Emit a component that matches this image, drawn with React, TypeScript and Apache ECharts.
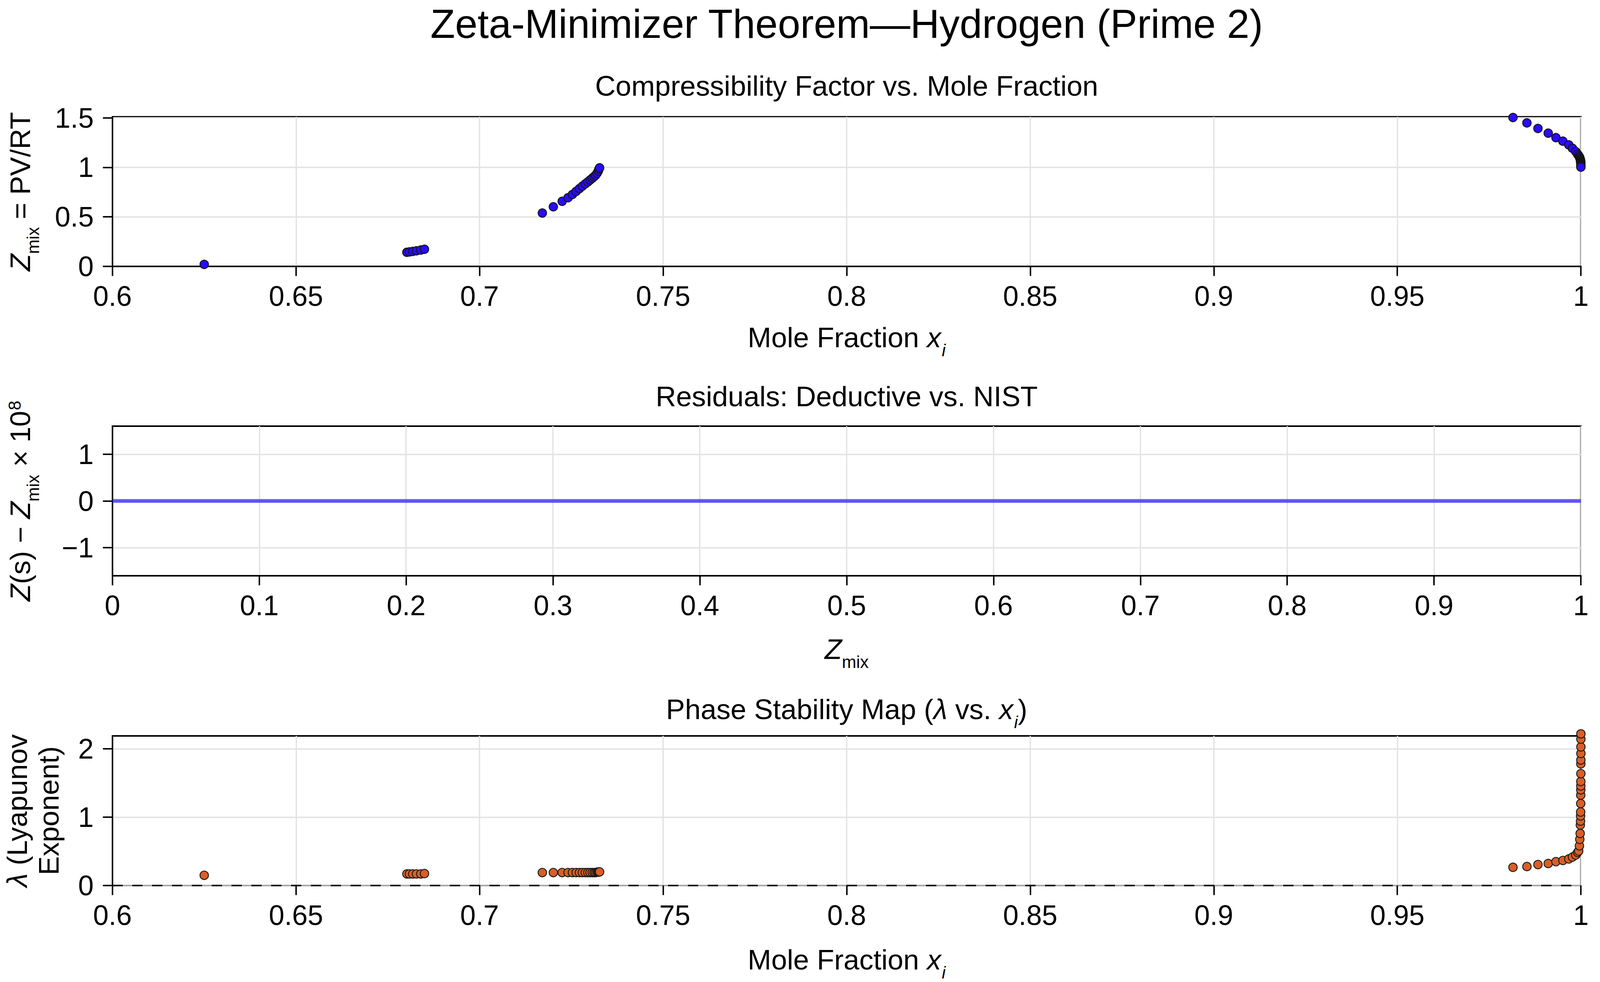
import React, { useEffect, useRef } from 'react';
import * as echarts from 'echarts';

// mole fraction x_i of each state point (shared by the Z and lambda panels)
const moleFraction = [
  0.625,
  0.6802, 0.6809, 0.6818, 0.6828, 0.684, 0.685,
  0.7171, 0.7201, 0.7225, 0.7241, 0.7253, 0.7263, 0.7272, 0.728, 0.7288, 0.7295,
  0.7301, 0.7307, 0.7312, 0.7316, 0.732, 0.7323, 0.7325, 0.7327,
  0.9815, 0.9853, 0.9883, 0.9911, 0.9932, 0.9951, 0.9967, 0.9977, 0.9986, 0.9991,
  0.9994, 0.9996, 0.9997, 0.9998, 0.99985, 0.9999, 0.99992, 0.99994, 0.99995, 0.99996,
  0.99997, 0.99998, 0.99998, 0.99999, 0.99999, 0.99999, 1.0, 1.0, 1.0, 1.0,
];

// compressibility factor Z_mix = PV/RT
const zMix = [
  0.02,
  0.142, 0.146, 0.151, 0.157, 0.165, 0.173,
  0.539, 0.602, 0.657, 0.693, 0.726, 0.757, 0.785, 0.81, 0.833, 0.853,
  0.872, 0.89, 0.906, 0.92, 0.94, 0.96, 0.98, 0.995,
  1.503, 1.448, 1.392, 1.345, 1.3, 1.264, 1.227, 1.192, 1.159, 1.133,
  1.118, 1.106, 1.095, 1.085, 1.078, 1.071, 1.065, 1.059, 1.054, 1.049,
  1.044, 1.039, 1.035, 1.031, 1.027, 1.021, 1.016, 1.011, 1.006, 1.002,
];

// Lyapunov exponent lambda
const lyapunov = [
  0.15,
  0.17, 0.17, 0.17, 0.17, 0.17, 0.175,
  0.19, 0.19, 0.19, 0.19, 0.19, 0.19, 0.19, 0.19, 0.19, 0.19,
  0.19, 0.19, 0.19, 0.19, 0.195, 0.195, 0.2, 0.2,
  0.266, 0.278, 0.307, 0.322, 0.35, 0.367, 0.389, 0.417, 0.447, 0.484,
  0.505, 0.581, 0.676, 0.762, 0.886, 0.943, 1.019, 1.076, 1.2, 1.323,
  1.4, 1.457, 1.523, 1.638, 1.781, 1.838, 1.933, 2.029, 2.143, 2.22,
];

// residuals Z(s) - Z_mix (x 1e8)
const residualZ = [0, 0.2, 0.4, 0.6, 0.8, 1.0];
const residualValue = [0, 0, 0, 0, 0, 0];

// y tick labels
const zTicks = [0, 0.5, 1, 1.5];
const residualTicks = [-1, 0, 1];
const lambdaTicks = [0, 1, 2];

const FONT = "'Liberation Sans', Arial, Helvetica, sans-serif";
const BLUE = '#2a0bff';
const ORANGE = '#d95f26';

// layout measured on a 4354 x 2514 canvas, scaled to the real size
const BASE_W = 4354;
const BASE_H = 2514;
const PLOT_LEFT = 306;
const PLOT_RIGHT = 4302;
const PANEL_TOPS = [299, 1091, 1884];
const PANEL_H = 383;

const minus = (v: number) => String(v).replace('-', '\u2212');

const buildOption = (sx: number, sy: number) => {
  const s = Math.min(sx, sy);
  const F = 77 * s;
  const SUB = 47 * s;
  const SUB_PAD = 50 * s;
  const midX = ((PLOT_LEFT + PLOT_RIGHT) / 2) * sx;
  const top = (i: number) => PANEL_TOPS[i] * sy;
  const bottom = (i: number) => (PANEL_TOPS[i] + PANEL_H) * sy;
  const mid = (i: number) => (PANEL_TOPS[i] + PANEL_H / 2) * sy;

  const rich = {
    n: { fontSize: F, lineHeight: F, fontFamily: FONT, verticalAlign: 'top', fill: '#000' },
    it: { fontSize: F, lineHeight: F, fontFamily: FONT, fontStyle: 'italic', verticalAlign: 'top', fill: '#000' },
    sub: { fontSize: SUB, lineHeight: SUB, fontFamily: FONT, verticalAlign: 'top', padding: [SUB_PAD, 0, 0, 0], fill: '#000' },
    subIt: { fontSize: SUB, lineHeight: SUB, fontFamily: FONT, fontStyle: 'italic', verticalAlign: 'top', padding: [SUB_PAD, 0, 0, 2 * s], fill: '#000' },
    sup: { fontSize: SUB, lineHeight: SUB, fontFamily: FONT, verticalAlign: 'top', padding: [0, 0, 0, 2 * s], fill: '#000' },
    n2: { fontSize: F, lineHeight: 86 * s, fontFamily: FONT, verticalAlign: 'top', fill: '#000' },
    it2: { fontSize: F, lineHeight: 86 * s, fontFamily: FONT, fontStyle: 'italic', verticalAlign: 'top', fill: '#000' },
  };

  const label = (x: number, y: number, text: string, rotation = 0) => ({
    type: 'text',
    x,
    y,
    rotation,
    silent: true,
    style: {
      text,
      fontSize: F,
      fontFamily: FONT,
      fill: '#000',
      align: 'center',
      verticalAlign: 'middle',
      rich,
    },
  });

  const xAxisFor = (gridIndex: number, min: number, max: number, interval: number, lineColor = '#000') => ({
    type: 'value',
    gridIndex,
    min,
    max,
    interval,
    axisLine: { show: true, onZero: false, lineStyle: { color: lineColor, width: 4 * s } },
    axisTick: { show: true, length: 26 * s, lineStyle: { color: '#000', width: 4 * s } },
    axisLabel: { color: '#000', fontSize: 76 * s, fontFamily: FONT, margin: 43 * s },
    splitLine: { show: true, lineStyle: { color: '#e2e2e2', width: 3.5 * s } },
  });

  const yAxisFor = (gridIndex: number, min: number, max: number, ticks: number[]) => ({
    type: 'value',
    gridIndex,
    min,
    max,
    splitNumber: 3,
    axisLine: { show: true, onZero: false, lineStyle: { color: '#000', width: 4 * s } },
    axisTick: { show: true, length: 26 * s, customValues: ticks, lineStyle: { color: '#000', width: 4 * s } },
    axisLabel: {
      color: '#000',
      fontSize: 76 * s,
      fontFamily: FONT,
      margin: 51 * s,
      customValues: ticks,
      formatter: (v: number) => (ticks.some((t) => Math.abs(t - v) < 1e-9) ? minus(v) : ''),
    },
    splitLine: { show: true, lineStyle: { color: '#e2e2e2', width: 3.5 * s } },
  });

  return {
    animation: false,
    backgroundColor: '#fff',
    textStyle: { fontFamily: FONT },
    grid: PANEL_TOPS.map((t) => ({
      left: PLOT_LEFT * sx,
      top: t * sy,
      width: (PLOT_RIGHT - PLOT_LEFT) * sx,
      height: PANEL_H * sy,
      show: true,
      borderColor: '#000',
      borderWidth: 4 * s,
      backgroundColor: 'transparent',
    })),
    xAxis: [
      xAxisFor(0, 0.6, 1.0, 0.05),
      xAxisFor(1, 0, 1, 0.1),
      xAxisFor(2, 0.6, 1.0, 0.05, '#a8a8a8'),
    ],
    yAxis: [
      yAxisFor(0, 0, 1.51, zTicks),
      yAxisFor(1, -1.6, 1.6, residualTicks),
      yAxisFor(2, 0, 2.19, lambdaTicks),
    ],
    series: [
      {
        type: 'scatter',
        xAxisIndex: 0,
        yAxisIndex: 0,
        data: moleFraction.map((x, i) => [x, zMix[i]]),
        symbolSize: 23 * s,
        clip: false,
        itemStyle: { color: BLUE, borderColor: '#141414', borderWidth: 2.5 * s, opacity: 1 },
        z: 3,
      },
      {
        type: 'line',
        xAxisIndex: 1,
        yAxisIndex: 1,
        data: residualZ.map((x, i) => [x, residualValue[i]]),
        showSymbol: false,
        lineStyle: { color: 'rgba(48, 24, 255, 0.72)', width: 10 * s },
        z: 3,
      },
      {
        type: 'scatter',
        xAxisIndex: 2,
        yAxisIndex: 2,
        data: moleFraction.map((x, i) => [x, lyapunov[i]]),
        symbolSize: 23 * s,
        clip: false,
        itemStyle: { color: ORANGE, borderColor: '#1a1a1a', borderWidth: 2.5 * s, opacity: 1 },
        z: 3,
        markLine: {
          silent: true,
          symbol: 'none',
          label: { show: false },
          lineStyle: { color: '#000', width: 4 * s, type: [28 * s, 26 * s] },
          data: [{ yAxis: 0 }],
          z: 2,
        },
      },
    ],
    graphic: [
      {
        type: 'text',
        x: midX,
        y: 61 * sy,
        silent: true,
        style: {
          text: 'Zeta-Minimizer Theorem\u2014Hydrogen (Prime 2)',
          fontSize: 110 * s,
          fontFamily: FONT,
          fill: '#000',
          align: 'center',
          verticalAlign: 'middle',
        },
      },
      // panel titles
      label(midX, top(0) - 79 * sy, '{n|Compressibility Factor vs. Mole Fraction}'),
      label(midX, top(1) - 76 * sy, '{n|Residuals: Deductive vs. NIST}'),
      label(midX, top(2) - 68 * sy, '{n|Phase Stability Map (}{it|\u03bb}{n| vs. }{it|x}{subIt|i}{n|)}'),
      // x axis names
      label(midX, bottom(0) + 182 * sy, '{n|Mole Fraction }{it|x}{subIt|i}'),
      label(midX, bottom(1) + 188 * sy, '{it|Z}{sub|mix}'),
      label(midX, bottom(2) + 190 * sy, '{n|Mole Fraction }{it|x}{subIt|i}'),
      // y axis names
      label(55 * sx, mid(0), '{it|Z}{sub|mix}{n| = PV/RT}', Math.PI / 2),
      label(55 * sx, mid(1), '{it|Z}{n|(s) \u2212 }{it|Z}{sub|mix}{n| \u00d7 10}{sup|8}', Math.PI / 2),
      label(94 * sx, mid(2), '{it2|\u03bb}{n2| (Lyapunov}\n{n2|Exponent)}', Math.PI / 2),
    ],
  };
};

const App: React.FC = () => {
  const chartRef = useRef<HTMLDivElement>(null);

  useEffect(() => {
    const el = chartRef.current;
    if (!el) return;
    const chart = echarts.init(el, undefined, { renderer: 'svg' });
    const sx = el.clientWidth / BASE_W;
    const sy = el.clientHeight / BASE_H;
    chart.setOption(buildOption(sx, sy) as any);

    return () => {
      chart.dispose();
    };
  }, []);

  return (
    <div
      ref={chartRef}
      style={{ position: 'fixed', left: 0, top: 0, width: '100vw', height: '100vh' }}
    />
  );
};

export default App;
